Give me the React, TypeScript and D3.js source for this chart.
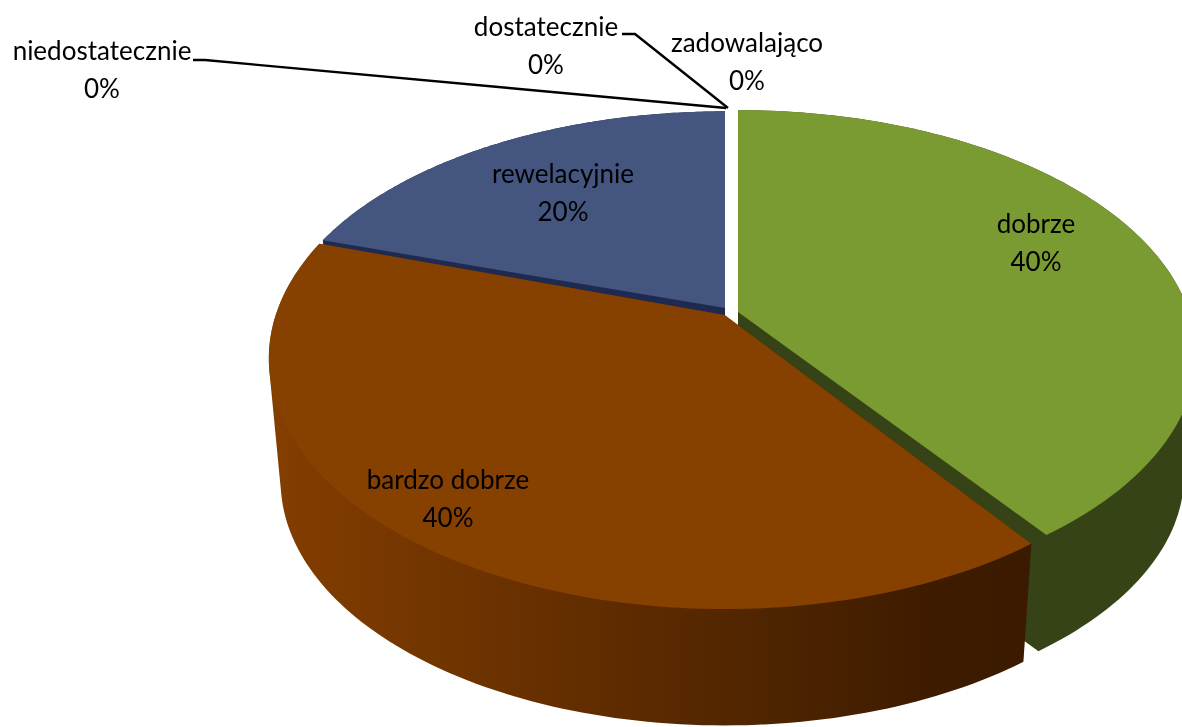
import React, { useEffect, useRef } from "react";
import * as d3 from "d3";

// values
const categories = ["zadowalająco", "dobrze", "bardzo dobrze", "rewelacyjnie", "niedostatecznie", "dostatecznie"];
const percents = [0, 40, 40, 20, 0, 0];

const width = 1182;
const height = 727;

// perspective of the pie plane
const radiusX = 451;
const radiusY = 243;
const persp = 0.1737;
const bottomScale = 0.974;

const sliceLayout = {
  dobrze: { apex: [738, 312], sx: 1, sy: 0.975, drop: 122, top: "#7a9a32", wall: "#364316" },
  "bardzo dobrze": { apex: [724.5, 315], sx: 0.995, sy: 1, drop: 124, top: "#864000", wall: "url(#brownWall)" },
  rewelacyjnie: { apex: [725, 308], sx: 0.988, sy: 0.95, drop: 124, top: "#445580", wall: "#1f2a50" },
};

// draw order, back to front
const drawOrder = ["dobrze", "rewelacyjnie", "bardzo dobrze"];

const labelPos = {
  niedostatecznie: [102, 60],
  dostatecznie: [546, 36],
  "zadowalająco": [747, 52],
  rewelacyjnie: [563, 183],
  dobrze: [1036, 233],
  "bardzo dobrze": [448, 489],
};

const leaders = [
  [[193, 60], [205, 60], [726, 108]],
  [[622, 34], [635, 34], [728, 108]],
];

const wallStops = [
  [267, "#843e00"],
  [400, "#763700"],
  [600, "#602c00"],
  [800, "#4c2300"],
  [920, "#3f1c00"],
  [1033, "#3a1a00"],
];

const project = (theta) => {
  const u = Math.sin(theta);
  const v = -Math.cos(theta);
  const w = 1 - persp * v;
  return [(radiusX * u) / w, (radiusY * v) / w];
};

const App = () => {
  const svgRef = useRef();

  useEffect(() => {
    const svg = d3.select(svgRef.current);
    svg.selectAll("*").remove();

    const xToOffset = d3.scaleLinear().domain([267, 1033]).range([0, 1]);
    svg
      .append("defs")
      .append("linearGradient")
      .attr("id", "brownWall")
      .attr("gradientUnits", "userSpaceOnUse")
      .attr("x1", 267)
      .attr("x2", 1033)
      .attr("y1", 0)
      .attr("y2", 0)
      .selectAll("stop")
      .data(wallStops)
      .join("stop")
      .attr("offset", (d) => xToOffset(d[0]))
      .attr("stop-color", (d) => d[1]);

    const arcs = d3
      .pie()
      .value((d) => d.value)
      .sort(null)(categories.map((name, i) => ({ name, value: percents[i] })));

    const line = d3.line();
    const slices = drawOrder.map((name) => {
      const arc = arcs.find((a) => a.data.name === name);
      const s = sliceLayout[name];
      const thetas = d3.range(0, 121).map((i) => arc.startAngle + ((arc.endAngle - arc.startAngle) * i) / 120);
      const topArc = thetas.map((t) => {
        const [x, y] = project(t);
        return [s.apex[0] + x * s.sx, s.apex[1] + y * s.sy];
      });
      const botArc = thetas.map((t) => {
        const [x, y] = project(t);
        return [s.apex[0] + x * s.sx * bottomScale, s.apex[1] + s.drop + y * s.sy * bottomScale];
      });
      const botApex = [s.apex[0], s.apex[1] + s.drop];
      return { ...s, topArc, botArc, botApex };
    });

    // walls first: the outline of each extruded slice, then the top faces over them
    slices.forEach((s) => {
      const hull = d3.polygonHull([s.apex, s.botApex, ...s.topArc, ...s.botArc]);
      svg.append("path").attr("d", line(hull) + "Z").attr("fill", s.wall);
    });
    slices.forEach((s) => {
      svg.append("path").attr("d", line([s.apex, ...s.topArc]) + "Z").attr("fill", s.top);
    });

    svg
      .selectAll(".leader")
      .data(leaders)
      .join("path")
      .attr("class", "leader")
      .attr("d", (d) => line(d))
      .attr("fill", "none")
      .attr("stroke", "#000")
      .attr("stroke-width", 2.4);

    const label = svg
      .selectAll(".label")
      .data(arcs)
      .join("text")
      .attr("class", "label")
      .attr("text-anchor", "middle")
      .attr("font-family", "Lato, sans-serif")
      .attr("font-size", 26)
      .attr("fill", "#000");
    label
      .append("tspan")
      .attr("x", (d) => labelPos[d.data.name][0])
      .attr("y", (d) => labelPos[d.data.name][1])
      .text((d) => d.data.name);
    label
      .append("tspan")
      .attr("x", (d) => labelPos[d.data.name][0])
      .attr("y", (d) => labelPos[d.data.name][1] + 38)
      .text((d) => `${d.data.value}%`);
  }, []);

  return (
    <svg
      ref={svgRef}
      width={width}
      height={height}
      style={{ position: "absolute", left: 0, top: 0, display: "block", background: "#fff", filter: "blur(0.5px)" }}
    ></svg>
  );
};

export default App;
